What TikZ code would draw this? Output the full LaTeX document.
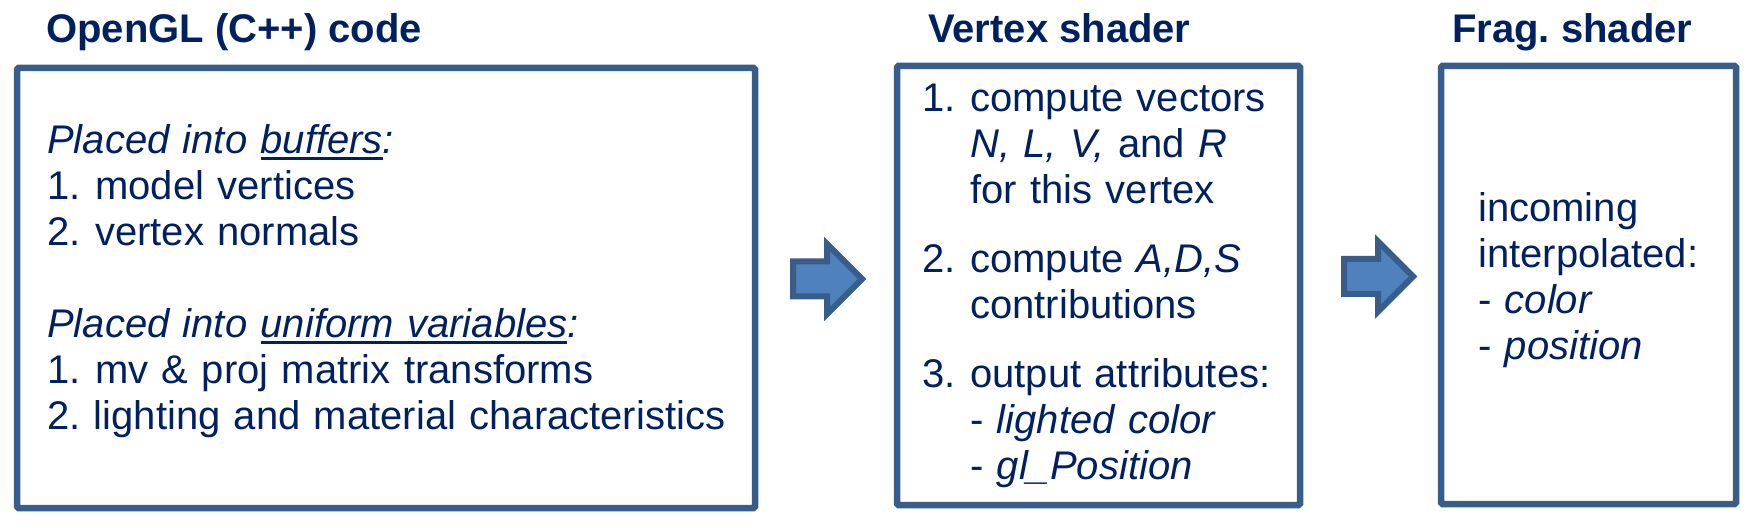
\documentclass[tikz,border=0pt]{standalone}
\usepackage{fontspec}
\setmainfont{Liberation Sans}
\usepackage{graphicx}
\usetikzlibrary{
    shapes.arrows,
    positioning
}
\definecolor{textnavy}{RGB}{0, 32, 96}
\definecolor{boxblue}{RGB}{56, 93, 138}
\definecolor{arrowfill}{RGB}{79, 129, 189}
\newcommand{\undl}[1]{\setbox0=\hbox{#1}\rlap{\rule[-6pt]{\wd0}{3pt}}\box0}
\newcommand{\stepnum}[2]{\makebox[48pt][l]{#1}#2}
\newcommand{\contline}{\hspace*{48pt}}
\frenchspacing

\begin{document}
\begin{tikzpicture}[
        x=1pt, y=-1pt,
        panel/.style={draw=boxblue, line width=6.5pt, rounded corners=1.5pt, inner sep=0pt},
        title/.style={anchor=base west, inner sep=0pt, text=textnavy, font=\fontsize{40}{46}\selectfont\bfseries},
        body/.style={anchor=base west, inner sep=0pt, align=left, text=textnavy, font=\fontsize{40}{46}\selectfont},
        blockarrow/.style={single arrow, draw=boxblue, fill=arrowfill, line width=6pt, inner xsep=0pt, inner ysep=14.5pt,
            minimum height=69pt, minimum width=64pt, single arrow head extend=17.5pt, anchor=tail}
    ]
        \useasboundingbox (0,0) rectangle (1752,526);

        % Panels
        \node[panel, minimum width=738pt, minimum height=440pt] (code) at (386, 288) {};
        \node[panel, minimum width=403pt, minimum height=439pt] (vert) at (1098.5, 285.5) {};
        \node[panel, minimum width=295pt, minimum height=438pt] (frag) at (1588.5, 285) {};

        % Titles
        \node[title] (codetitle) at (46, 43) {OpenGL (C++) code};
        \node[title] (verttitle) at (928, 43) {Vertex shader};
        \node[title] (fragtitle) at (1452, 43) {Frag. shader};

        % Panel contents
        \node[body, text width=720pt] (codetext) at (47, 154) {
            \textit{Placed into \undl{buffers}:}\\
            \stepnum{1.}{model vertices}\\
            \stepnum{2.}{vertex normals}\\[46pt]
            \textit{Placed into \undl{uniform variables}:}\\
            \stepnum{1.}{mv \& proj matrix transforms}\\
            2. lighting and material characteristics
        };

        \node[body, text width=380pt] (verttext) at (922, 112) {
            \stepnum{1.}{compute vectors}\\
            \contline\textit{N, L, V,} and \textit{R}\\
            \contline for this vertex\\[23pt]
            \stepnum{2.}{compute \textit{A,D,S}}\\
            \contline contributions\\[23pt]
            \stepnum{3.}{output attributes:}\\
            \contline - \textit{lighted color}\\
            \contline - \textit{gl\_Position}
        };

        \node[body, text width=250pt] (fragtext) at (1478, 222) {
            incoming\\
            interpolated:\\
            - \textit{color}\\
            - \textit{position}
        };

        % Block arrows
        \node[blockarrow] (arrow1) at (790, 279) {};
        \node[blockarrow] (arrow2) at (1341, 276.5) {};
    \end{tikzpicture}
\end{document}
